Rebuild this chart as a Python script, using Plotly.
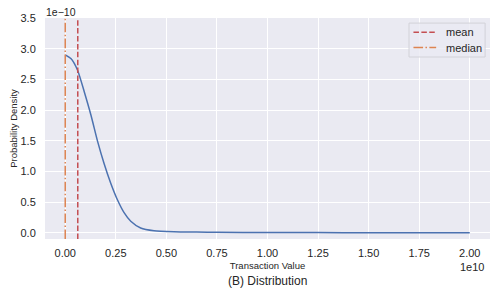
import plotly.graph_objects as go

# Values (x in units of 1e10, density in units of 1e-10)
x_vals = [0.0, 0.028, 0.061, 0.094, 0.127, 0.160, 0.192, 0.225, 0.258, 0.291,
          0.324, 0.373, 0.439, 0.537, 0.65, 0.75, 1.0, 1.25, 1.5, 1.75, 2.0]
density = [2.90, 2.84, 2.65, 2.30, 1.92, 1.49, 1.13, 0.81, 0.54, 0.33,
           0.19, 0.08, 0.035, 0.018, 0.012, 0.009, 0.006, 0.004, 0.003, 0.002, 0.001]
mean_val = 0.062
median_val = 0.0
legend_names = ["mean", "median"]
x_ticks = [0.0, 0.25, 0.5, 0.75, 1.0, 1.25, 1.5, 1.75, 2.0]
x_tick_labels = ["0.00", "0.25", "0.50", "0.75", "1.00", "1.25", "1.50", "1.75", "2.00"]
y_ticks = [0.0, 0.5, 1.0, 1.5, 2.0, 2.5, 3.0, 3.5]
y_tick_labels = ["0.0", "0.5", "1.0", "1.5", "2.0", "2.5", "3.0", "3.5"]

Y_RANGE = [-0.1, 3.5]
X_RANGE = [-0.1, 2.1]

FONT = "Liberation Sans, Arial, sans-serif"
TXT = "#262626"
MEAN_COLOR = "#C44E52"
MEDIAN_COLOR = "#DD8452"
MEAN_DASH = "5.5px,2.4px"
MEDIAN_DASH = "9.6px,2.4px,1.5px,2.4px"

fig = go.Figure()
fig.add_trace(go.Scatter(x=x_vals, y=density, mode="lines", line=dict(color="#4C72B0", width=1.5,
                         shape="spline", smoothing=0.6), showlegend=False, hoverinfo="skip"))
fig.add_trace(go.Scatter(x=[mean_val, mean_val], y=Y_RANGE, mode="lines", name=legend_names[0],
                         showlegend=False, line=dict(color=MEAN_COLOR, width=1.5, dash=MEAN_DASH)))
fig.add_trace(go.Scatter(x=[median_val, median_val], y=Y_RANGE, mode="lines", name=legend_names[1],
                         showlegend=False, line=dict(color=MEDIAN_COLOR, width=1.5, dash=MEDIAN_DASH)))

# page body has an 8px margin, so the figure is 8px smaller than the window
fig.update_layout(
    width=490, height=287,
    margin=dict(l=37, r=8, t=10, b=56, autoexpand=False),
    paper_bgcolor="white", plot_bgcolor="#EAEAF2",
    font=dict(family=FONT, size=11, color=TXT),
    showlegend=False,
    xaxis=dict(range=X_RANGE, tickvals=x_ticks, ticktext=x_tick_labels, showgrid=True,
               gridcolor="white", gridwidth=1, zeroline=False, showline=False, automargin=False,
               ticks="outside", ticklen=4, tickcolor="rgba(0,0,0,0)",
               tickfont=dict(size=11, color=TXT),
               title=dict(text="Transaction Value", font=dict(size=9.5), standoff=4)),
    yaxis=dict(range=Y_RANGE, tickvals=y_ticks, ticktext=y_tick_labels, showgrid=True,
               gridcolor="white", gridwidth=1, zeroline=False, showline=False, automargin=False,
               ticks="outside", ticklen=6, tickcolor="rgba(0,0,0,0)",
               tickfont=dict(size=11, color=TXT),
               title=dict(text="Probability Density", font=dict(size=9.5), standoff=2)),
)

# legend box (matplotlib style)
fig.add_shape(type="rect", xref="paper", yref="paper", x0=0.818, x1=0.989, y0=0.8235, y1=0.977,
              line=dict(color="#d2d2d8", width=1), fillcolor="rgba(234,234,242,0.8)", layer="above")
for yy, col, dash, name in [(0.935, MEAN_COLOR, MEAN_DASH, legend_names[0]),
                            (0.866, MEDIAN_COLOR, MEDIAN_DASH, legend_names[1])]:
    fig.add_shape(type="line", xref="paper", yref="paper", x0=0.828, x1=0.879, y0=yy, y1=yy,
                  line=dict(color=col, width=1.5, dash=dash), layer="above")
    fig.add_annotation(text=name, xref="paper", yref="paper", x=0.897, y=yy, xanchor="left",
                       yanchor="middle", showarrow=False, font=dict(size=11, color=TXT))

fig.add_annotation(text="1e\u221210", xref="paper", yref="paper", x=0, y=1, xanchor="left",
                   yanchor="middle", showarrow=False, font=dict(size=10.5, color=TXT),
                   yshift=6, borderpad=0)
fig.add_annotation(text="1e10", xref="paper", yref="paper", x=0.992, y=0, xanchor="right",
                   yanchor="middle", showarrow=False, font=dict(size=11, color=TXT), yshift=-28)
fig.add_annotation(text="(B) Distribution", xref="paper", yref="paper", x=0.5, y=0, xanchor="center",
                   yanchor="middle", showarrow=False, font=dict(size=12, color=TXT), yshift=-42)

fig.write_html("out.html")
